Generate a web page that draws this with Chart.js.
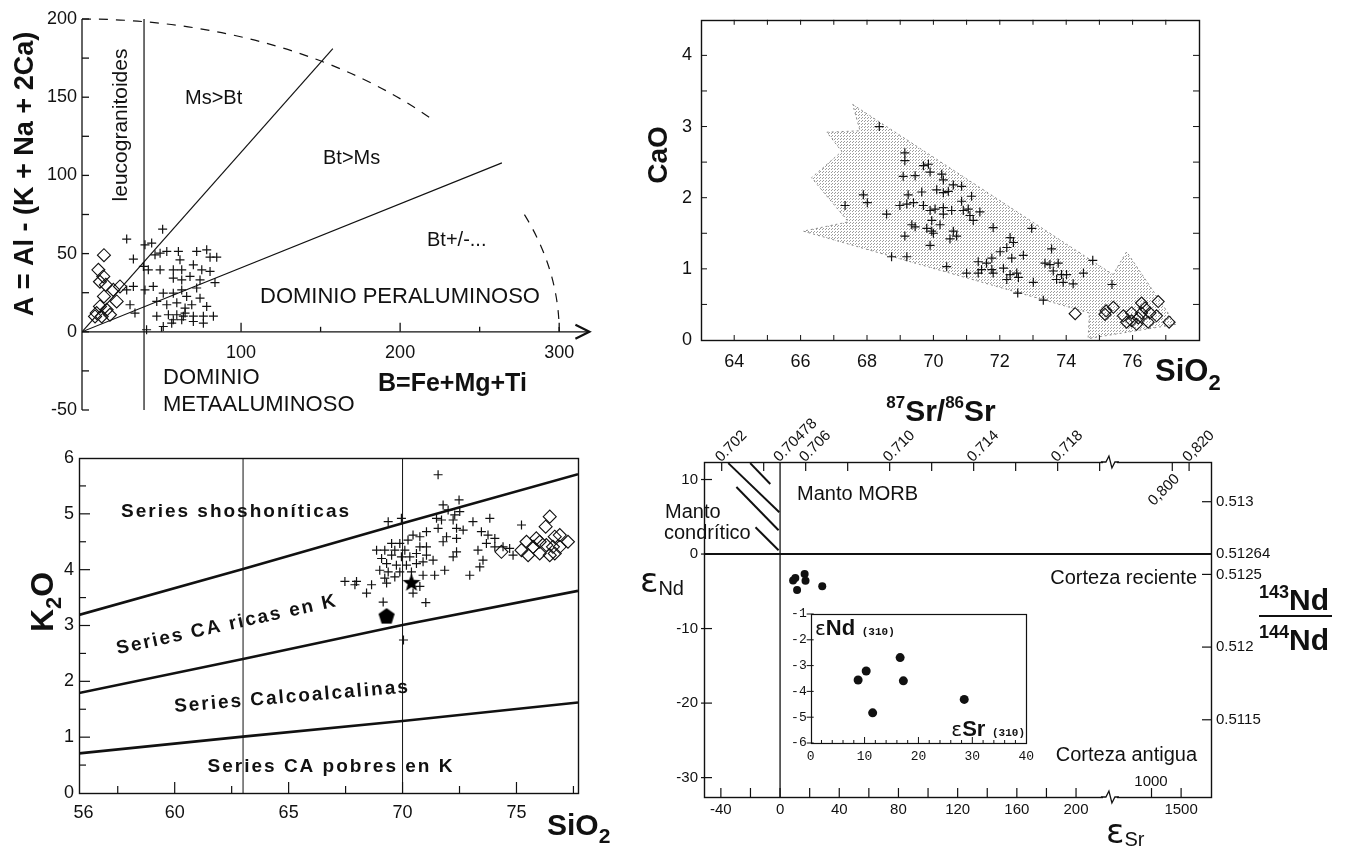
<!DOCTYPE html>
<html>
<head>
<meta charset="utf-8">
<script src="https://cdn.jsdelivr.net/npm/chart.js@4.4.1/dist/chart.umd.min.js"></script>
<style>
  html, body { margin: 0; background: #fff; }
  #page { position: relative; width: 1350px; height: 849px; overflow: hidden; }
  canvas { position: absolute; }
</style>
</head>
<body>
<div id="page">
  <canvas id="c1" width="640" height="430" style="left:0;top:0"></canvas>
  <canvas id="c2" width="710" height="420" style="left:640px;top:0"></canvas>
  <canvas id="c3" width="640" height="429" style="left:0;top:420px"></canvas>
  <canvas id="c4" width="710" height="459" style="left:640px;top:390px"></canvas>
  <canvas id="c5" width="260" height="170" style="left:780px;top:600px"></canvas>
</div>
<script>
// ── Panel 1: A–B diagram (top left) ──
const abCrosses = [
  [28.1,59.3],[50.7,65.6],[39.6,55.6],[43.8,56.7],[32.3,46.5],[38.6,41.8],[45.9,49.2],[49.1,50.3],
  [53.3,51.4],[60.6,51.4],[72.1,51.4],[78.4,52.4],[84.7,47.7],[80.5,47.7],[61.6,46],[49.1,39.6],
  [57.4,39.6],[62.7,39.6],[70,42.8],[75.3,39.6],[80.5,38.6],[41.7,39.6],[57.4,34.3],[62.7,33.2],
  [67.9,35.4],[74.2,33.2],[83.6,31.5],[39.6,26.8],[44.8,29],[51.1,24.7],[57.4,24.7],[62.7,26.8],
  [65.8,22.6],[72.1,28],[74.2,21.5],[32.3,29],[28.1,26.8],[30.2,17.3],[33.3,12],[47,19.4],
  [53.3,17.3],[59.6,18.5],[64.8,15.2],[69,17.3],[78.4,16.2],[47,10],[54.3,10.9],[59.6,10.9],
  [63.7,10],[70,10],[76.3,10],[82.6,10],[62.7,7.7],[70,6.6],[76.3,5.5],[56.4,5.5],[51.1,3.4],
  [40.6,1.3],[57.4,7.7],[64.8,12]
]
const abDiamonds = [
  [13.8,49],[10.3,39.6],[13.4,35.4],[11.3,32],[15,30],[19.7,26.8],[23.9,29],[13.8,22.6],
  [21.8,19.4],[11.3,16.2],[15.5,14.1],[9.2,12],[17.6,10.9],[12.4,9.8],[8.2,9.8]
]
const abLineMsBt = [[0, 0], [157.7, 181]]
const abLineBtMs = [[0, 0], [264, 108]]
const abLeuco = [[39, 200], [39, -50]]
const abXTicks = [100, 200, 300]
const abYTicks = [-50, 0, 50, 100, 150, 200]

// ── Panel 2: CaO vs SiO2 (top right) ──
const caoCrosses = [
  [68.37,3.00],[69.14,2.63],[69.14,2.52],[69.09,2.30],[69.45,2.31],[69.70,2.45],[69.85,2.47],[69.90,2.36],
  [70.25,2.33],[70.30,2.25],[70.85,2.16],[70.60,2.18],[70.45,2.09],[70.10,2.11],[70.30,2.07],[69.65,2.08],
  [69.24,2.04],[69.20,1.91],[68.99,1.89],[69.40,1.93],[69.70,1.89],[69.90,1.82],[70.05,1.84],[70.30,1.86],
  [70.55,1.82],[70.85,1.95],[70.90,1.82],[71.05,1.84],[71.15,2.02],[71.10,1.75],[71.20,1.68],[71.40,1.80],
  [70.30,1.77],[70.20,1.62],[69.95,1.68],[69.80,1.57],[69.45,1.59],[69.35,1.62],[69.14,1.46],[69.95,1.53],
  [70.00,1.50],[69.90,1.33],[70.60,1.53],[70.70,1.46],[70.50,1.42],[70.40,1.03],[68.74,1.17],[69.20,1.17],
  [68.59,1.77],[67.89,2.04],[68.01,1.93],[67.34,1.89],[71.80,1.58],[72.96,1.57],[72.31,1.44],[72.41,1.37],
  [72.21,1.30],[72.01,1.24],[72.71,1.19],[72.36,1.15],[71.76,1.15],[71.35,1.10],[71.60,1.08],[71.45,0.99],
  [71.76,0.99],[71.00,0.94],[71.35,0.94],[71.80,0.94],[72.11,1.01],[72.31,0.92],[72.51,0.94],[72.21,0.85],
  [72.56,0.88],[73.01,0.81],[73.56,1.28],[73.36,1.08],[73.51,1.06],[73.76,1.08],[73.61,0.97],[73.86,0.92],
  [73.71,0.85],[74.01,0.92],[73.91,0.81],[74.21,0.79],[74.52,0.94],[74.80,1.12],[72.54,0.66],[73.31,0.56],
  [75.38,0.78]
]
const caoDiamonds = [
  [74.27,0.37],[75.20,0.41],[75.42,0.46],[75.17,0.36],[75.72,0.34],[75.97,0.38],[76.27,0.52],[76.37,0.45],
  [76.77,0.54],[76.17,0.31],[76.47,0.25],[76.72,0.34],[75.82,0.25],[76.12,0.22],[76.52,0.38],[77.10,0.25],
  [76.27,0.38],[75.97,0.27]
]
const caoArrow = [
  [67.57,3.31],[75.41,0.92],[75.82,1.24],[77.3,0.22],[74.66,0.02],[74.7,0.38],[66.08,1.53],[67.44,1.66],
  [66.33,2.28],[67.24,2.65],[66.79,2.92],[67.79,2.94],[67.57,3.31]
]
const caoXTicks = [64, 66, 68, 70, 72, 74, 76]
const caoYTicks = [0, 1, 2, 3, 4]

// ── Panel 3: K2O vs SiO2 (bottom left) ──
const k2oCrosses = [
  [71.56,5.70],[72.48,5.25],[71.78,5.16],[72.0,5.07],[72.29,4.98],[72.51,5.04],[71.49,4.92],[71.71,4.89],
  [72.22,4.89],[73.09,4.86],[73.83,4.92],[69.37,4.86],[69.95,4.92],[71.56,4.74],[72.37,4.74],[72.66,4.71],
  [73.46,4.68],[73.75,4.62],[74.05,4.56],[71.93,4.59],[71.78,4.50],[72.37,4.56],[70.76,4.59],[71.05,4.68],
  [70.46,4.62],[70.24,4.53],[69.88,4.47],[69.52,4.47],[70.76,4.41],[71.05,4.41],[70.10,4.35],[69.66,4.35],
  [69.22,4.35],[68.86,4.35],[70.61,4.29],[71.05,4.26],[71.34,4.17],[70.32,4.23],[69.95,4.23],[69.52,4.26],
  [69.08,4.20],[69.30,4.11],[69.73,4.08],[70.17,4.08],[70.61,4.11],[70.90,4.14],[69.0,3.99],[69.37,3.96],
  [69.88,3.96],[70.39,3.96],[70.90,3.90],[71.41,3.90],[71.85,3.99],[69.22,3.85],[69.66,3.87],[69.30,3.76],
  [70.76,3.70],[70.46,3.58],[71.02,3.41],[69.15,3.42],[67.47,3.79],[67.98,3.79],[67.91,3.73],[68.64,3.73],
  [68.42,3.58],[72.37,4.32],[72.22,4.23],[73.31,4.35],[73.53,4.17],[73.39,4.05],[72.95,3.90],[75.22,4.80],
  [74.41,4.41],[74.70,4.38],[74.85,4.26],[74.05,4.41],[73.68,4.47],[70.04,2.74]
]
const k2oDiamonds = [
  [76.46,4.95],[76.28,4.77],[75.87,4.56],[76.68,4.59],[76.90,4.62],[77.26,4.50],[74.34,4.32],[75.22,4.35],
  [75.51,4.26],[75.73,4.41],[76.02,4.29],[76.31,4.44],[76.60,4.41],[76.90,4.41],[76.46,4.26],[76.02,4.50],
  [76.68,4.29],[75.44,4.50]
]
const k2oStar = [[70.39, 3.76]]
const k2oPentagon = [[69.3, 3.16]]
const k2oBoundHigh = [[55.8,3.19],[63,4.01],[70,4.83],[77.7,5.71]]
const k2oBoundMid = [[55.8,1.79],[63,2.40],[70,3.01],[77.7,3.62]]
const k2oBoundLow = [[55.8,0.71],[63,1.01],[70,1.29],[77.7,1.62]]
const k2oVLines = [63, 70]
const k2oXTicks = [56, 60, 65, 70, 75]
const k2oYTicks = [0, 1, 2, 3, 4, 5, 6]

// ── Panel 4: εNd vs εSr (bottom right) + inset ──
const isoEsr = [8.8, 10.3, 16.6, 17.2, 11.5, 28.5]
const isoEnd = [-3.56, -3.21, -2.69, -3.59, -4.83, -4.31]
const esrTickLabels = [-40, 0, 40, 80, 120, 160, 200, 1500]
const endTickLabels = [10, 0, -10, -20, -30]
const srRatioLabels = ['0.702', '0.70478', '0.706', '0.710', '0.714', '0.718', '0,820']
const srRatioValues = [0.702, 0.70478, 0.706, 0.710, 0.714, 0.718, 0.820]
const ndRatioLabels = ['0.513', '0.51264', '0.5125', '0.512', '0.5115']
const ndRatioValues = [0.513, 0.51264, 0.5125, 0.512, 0.5115]
const chondriteHatch = [
  [[-35.0, 12.2], [-0.5, 5.6]],
  [[-20.2, 12.2], [-6.6, 9.4]],
  [[-29.5, 9.0], [-1.0, 3.2]],
  [[-16.6, 3.6], [-1.0, 0.5]]
]
const insetXTicks = [0, 10, 20, 30, 40]
const insetYTicks = [-1, -2, -3, -4, -5, -6]

const SR_CHUR = 0.70478
const ND_CHUR = 0.51264
const BREAK_AT = 222.9            // εSr axis is broken here
const epsSr = r => (r / SR_CHUR - 1) * 1e4
const epsNd = r => (r / ND_CHUR - 1) * 1e4
// positions right of the break are compressed: 1000 → 251, 1500 → 271
const esrPos = e => e <= BREAK_AT ? e : 251 + (e - 1000) * 0.04

// ── Chart defaults ──
const FONT = "'Liberation Sans', Arial, Helvetica, sans-serif"
const INK = '#111'
Chart.defaults.font.family = FONT
Chart.defaults.color = INK
Chart.defaults.animation = false
Chart.defaults.events = []
Chart.defaults.plugins.legend.display = false
Chart.defaults.plugins.tooltip.enabled = false

const pts = arr => arr.map(([x, y]) => ({ x, y }))

function axis({ min, max, ticks, labels, pos, size = 18, pad = 6, w, h, rot = 0, shift = 0, family }) {
  return {
    type: 'linear', min, max, position: pos,
    grid: { display: false, drawTicks: false },
    border: { display: false },
    afterBuildTicks: s => { s.ticks = ticks.map(v => ({ value: v })) },
    afterFit: s => { if (w != null) s.width = w; if (h != null) s.height = h },
    ticks: {
      autoSkip: false, padding: pad, minRotation: rot, maxRotation: rot, labelOffset: shift, color: INK,
      font: { size, family: family || FONT },
      callback: (v, i) => labels ? labels[i] : String(v)
    }
  }
}

function crossSet(data, r = 4.5) {
  return { type: 'scatter', data: pts(data), pointStyle: 'cross', pointRadius: r,
    pointBorderColor: INK, pointBorderWidth: 1.2, order: 1 }
}
function diamondSet(data, r = 6.5) {
  return { type: 'scatter', data: pts(data), pointStyle: 'rectRot', pointRadius: r,
    pointBorderColor: INK, pointBackgroundColor: 'rgba(0,0,0,0)', pointBorderWidth: 1.1, order: 1 }
}
function lineSet(data, width = 1.2) {
  return { type: 'line', data: pts(data), borderColor: INK, borderWidth: width,
    pointRadius: 0, fill: false, tension: 0, order: 2 }
}

// ── drawing helpers for frames, tick marks and labels ──
function seg(ctx, x1, y1, x2, y2) { ctx.beginPath(); ctx.moveTo(x1, y1); ctx.lineTo(x2, y2); ctx.stroke() }
function txt(ctx, s, x, y, font, align = 'left', rot = 0, spacing = 0) {
  ctx.save(); ctx.translate(x, y); ctx.rotate(rot * Math.PI / 180)
  ctx.font = font; ctx.textAlign = align; ctx.textBaseline = 'middle'; ctx.fillStyle = INK
  ctx.letterSpacing = spacing + 'px'
  ctx.fillText(s, 0, 0); ctx.restore()
}
// text runs on a common baseline (for sub/superscripts)
function runs(ctx, parts, x, y, align = 'left', rot = 0) {
  ctx.save(); ctx.translate(x, y); ctx.rotate(rot * Math.PI / 180)
  ctx.fillStyle = INK; ctx.textBaseline = 'alphabetic'; ctx.textAlign = 'left'
  let total = 0
  parts.forEach(p => { ctx.font = p[1]; total += ctx.measureText(p[0]).width })
  let cx = align === 'center' ? -total / 2 : align === 'right' ? -total : 0
  parts.forEach(([s, f, dy = 0]) => { ctx.font = f; ctx.fillText(s, cx, dy); cx += ctx.measureText(s).width })
  ctx.restore()
}
function steps(a, b, s) { const out = []; for (let v = a; v <= b + 1e-9; v += s) out.push(+v.toFixed(4)); return out }
function frame(ctx, a, lw = 1.3) {
  ctx.lineWidth = lw
  ctx.strokeRect(Math.round(a.left) + 0.5, Math.round(a.top) + 0.5, Math.round(a.right - a.left), Math.round(a.bottom - a.top))
}
function page(ctx, chart, fn) {
  const c = chart.canvas
  ctx.save(); ctx.translate(-c.offsetLeft, -c.offsetTop); fn(); ctx.restore()
}

// filled point images for the star and pentagon markers
function polyImage(n, inner, size) {
  const c = document.createElement('canvas'); c.width = c.height = size
  const g = c.getContext('2d'); g.fillStyle = '#000'; g.beginPath()
  const r = size / 2 - 0.5, k = inner ? n * 2 : n
  for (let i = 0; i < k; i++) {
    const rr = inner && i % 2 ? r * inner : r
    const a = -Math.PI / 2 + i * Math.PI * 2 / k
    g.lineTo(size / 2 + rr * Math.cos(a), size / 2 + rr * Math.sin(a))
  }
  g.closePath(); g.fill(); return c
}

// stipple used for the grey arrow in the CaO diagram
function stipple(ctxOwner) {
  const c = document.createElement('canvas'); c.width = c.height = 3
  const g = c.getContext('2d'); g.fillStyle = '#9c9c9c'
  g.fillRect(0, 0, 1, 1); g.fillRect(2, 1, 1, 1)
  return ctxOwner.getContext('2d').createPattern(c, 'repeat')
}

const baseOpts = (padding, scales) => ({
  responsive: false, animation: false,
  layout: { padding, autoPadding: false },
  scales
})

// ── Chart 1: A–B ──
new Chart(document.getElementById('c1'), {
  type: 'scatter',
  data: { datasets: [
    lineSet(abLineMsBt), lineSet(abLineBtMs), lineSet(abLeuco),
    crossSet(abCrosses), diamondSet(abDiamonds)
  ] },
  options: baseOpts({ left: 22, top: 19, right: 49, bottom: 20 }, {
    x: axis({ min: 0, max: 320, ticks: abXTicks, pos: { y: 0 }, h: 0, pad: 10, size: 18 }),
    y: axis({ min: -50, max: 200, ticks: abYTicks, pos: 'left', w: 60, pad: 5, size: 18 })
  }),
  plugins: [{
    id: 'abDecor',
    afterDraw(chart) {
      const { ctx } = chart, X = v => chart.scales.x.getPixelForValue(v), Y = v => chart.scales.y.getPixelForValue(v)
      ctx.save(); ctx.strokeStyle = INK; ctx.fillStyle = INK; ctx.lineWidth = 1.3
      seg(ctx, X(0), Y(200), X(0), Y(-50))
      steps(-50, 200, 25).forEach(v => seg(ctx, X(0), Y(v), X(0) + 7, Y(v)))
      seg(ctx, X(0), Y(0), X(319), Y(0))
      steps(50, 300, 50).forEach(v => seg(ctx, X(v), Y(0), X(v), Y(0) - (v % 100 ? 5 : 9)))
      ctx.lineWidth = 2.2
      ctx.beginPath(); ctx.moveTo(X(319) - 14, Y(0) - 7); ctx.lineTo(X(319), Y(0)); ctx.lineTo(X(319) - 14, Y(0) + 7); ctx.stroke()
      // dashed limit of the diagram (ellipse A=200, B=300), open where the labels sit
      ctx.lineWidth = 1.2; ctx.setLineDash([9, 8])
      const rx = X(300) - X(0), ry = Y(0) - Y(200)
      ctx.beginPath(); ctx.ellipse(X(0), Y(0), rx, ry, 0, -Math.PI / 2, -42.5 * Math.PI / 180); ctx.stroke()
      ctx.beginPath(); ctx.ellipse(X(0), Y(0), rx, ry, 0, -22 * Math.PI / 180, 0); ctx.stroke()
      ctx.setLineDash([])
      page(ctx, chart, () => {
        txt(ctx, 'Ms>Bt', 185, 98, `20px ${FONT}`)
        txt(ctx, 'Bt>Ms', 323, 158, `20px ${FONT}`)
        txt(ctx, 'Bt+/-...', 427, 240, `20px ${FONT}`)
        txt(ctx, 'DOMINIO PERALUMINOSO', 260, 297, `22px ${FONT}`)
        txt(ctx, 'DOMINIO', 163, 378, `22px ${FONT}`)
        txt(ctx, 'METAALUMINOSO', 163, 405, `22px ${FONT}`)
        txt(ctx, 'B=Fe+Mg+Ti', 378, 384, `bold 25px ${FONT}`)
        txt(ctx, 'leucogranitoides', 121, 125, `21px ${FONT}`, 'center', -90)
        txt(ctx, 'A = Al - (K + Na + 2Ca)', 26, 174, `bold 27px ${FONT}`, 'center', -90)
      })
      ctx.restore()
    }
  }]
})

// ── Chart 2: CaO vs SiO2 ──
const c2 = document.getElementById('c2')
new Chart(c2, {
  type: 'scatter',
  data: { datasets: [
    crossSet(caoCrosses), diamondSet(caoDiamonds, 6),
    { type: 'line', data: pts(caoArrow), borderColor: '#8a8a8a', borderWidth: 1, borderDash: [2, 3],
      backgroundColor: stipple(c2), fill: 'shape', pointRadius: 0, tension: 0, order: 9 }
  ] },
  options: baseOpts({ left: 21, top: 7, right: 151, bottom: 40 }, {
    x: axis({ min: 63, max: 78, ticks: caoXTicks, pos: 'bottom', h: 40, pad: 11, size: 18 }),
    y: axis({ min: 0, max: 4.5, ticks: caoYTicks, pos: 'left', w: 40, pad: 9, size: 18 })
  }),
  plugins: [{
    id: 'caoDecor',
    afterDraw(chart) {
      const { ctx, chartArea: a } = chart, X = v => chart.scales.x.getPixelForValue(v), Y = v => chart.scales.y.getPixelForValue(v)
      ctx.save(); ctx.strokeStyle = INK; frame(ctx, a, 1.4)
      ctx.lineWidth = 1
      steps(0.5, 4, 0.5).forEach(v => { seg(ctx, a.left, Y(v), a.left + 6, Y(v)); seg(ctx, a.right, Y(v), a.right - 6, Y(v)) })
      steps(64, 77, 1).forEach(v => { seg(ctx, X(v), a.bottom, X(v), a.bottom - 5); seg(ctx, X(v), a.top, X(v), a.top + 5) })
      page(ctx, chart, () => {
        txt(ctx, 'CaO', 659, 155, `bold 28px ${FONT}`, 'center', -90)
        runs(ctx, [['SiO', `bold 31px ${FONT}`], ['2', `bold 22px ${FONT}`, 9]], 1155, 381)
      })
      ctx.restore()
    }
  }]
})

// ── Chart 3: K2O vs SiO2 ──
new Chart(document.getElementById('c3'), {
  type: 'scatter',
  data: { datasets: [
    lineSet(k2oBoundHigh, 2.6), lineSet(k2oBoundMid, 2.6), lineSet(k2oBoundLow, 2.6),
    ...k2oVLines.map(v => lineSet([[v, 0], [v, 6]], 1)),
    crossSet(k2oCrosses), diamondSet(k2oDiamonds),
    { type: 'scatter', data: pts(k2oStar), pointStyle: polyImage(5, 0.42, 20), order: 0 },
    { type: 'scatter', data: pts(k2oPentagon), pointStyle: polyImage(5, 0, 18), order: 0 }
  ] },
  options: baseOpts({ left: 39, top: 38, right: 62, bottom: 16 }, {
    x: axis({ min: 55.8, max: 77.7, ticks: k2oXTicks, pos: 'bottom', h: 40, pad: 9, size: 18 }),
    y: axis({ min: 0, max: 6, ticks: k2oYTicks, pos: 'left', w: 40, pad: 5, size: 18 })
  }),
  plugins: [{
    id: 'k2oDecor',
    afterDraw(chart) {
      const { ctx, chartArea: a } = chart, X = v => chart.scales.x.getPixelForValue(v), Y = v => chart.scales.y.getPixelForValue(v)
      ctx.save(); ctx.strokeStyle = INK; frame(ctx, a, 1.4)
      ctx.lineWidth = 1.2
      steps(0.5, 5.5, 0.5).forEach(v => seg(ctx, a.left, Y(v), a.left + (v % 1 ? 7 : 11), Y(v)))
      steps(57.5, 77.5, 2.5).forEach(v => seg(ctx, X(v), a.bottom, X(v), a.bottom - (v % 5 ? 7 : 11)))
      page(ctx, chart, () => {
        const f = `bold 19px ${FONT}`
        txt(ctx, 'Series shoshoníticas', 121, 512, f, 'left', 0, 2)
        txt(ctx, 'Series CA ricas en K', 227, 625, f, 'center', -12.4, 2)
        txt(ctx, 'Series Calcoalcalinas', 292, 697, f, 'center', -4.8, 2)
        txt(ctx, 'Series CA pobres en K', 331, 767, f, 'center', 0, 2)
        runs(ctx, [['K', `bold 32px ${FONT}`], ['2', `bold 22px ${FONT}`, 8], ['O', `bold 32px ${FONT}`]], 53, 602, 'center', -90)
        runs(ctx, [['SiO', `bold 30px ${FONT}`], ['2', `bold 21px ${FONT}`, 8]], 547, 835)
      })
      ctx.restore()
    }
  }]
})

// ── Chart 4: εNd vs εSr ──
const esrMin = -51.4, esrMax = 291.2, endMin = -32.6, endMax = 12.35
new Chart(document.getElementById('c4'), {
  type: 'scatter',
  data: { datasets: [
    { type: 'scatter', data: isoEsr.map((x, i) => ({ x, y: isoEnd[i] })), pointStyle: 'circle', pointRadius: 4,
      pointBackgroundColor: INK, pointBorderColor: INK, pointBorderWidth: 0 }
  ] },
  options: baseOpts({ left: 24, top: 22, right: 59, bottom: 22 }, {
    x: axis({ min: esrMin, max: esrMax, ticks: esrTickLabels.map(esrPos), labels: esrTickLabels.map(String),
      pos: 'bottom', h: 30, pad: 4, size: 15 }),
    x2: axis({ min: esrMin, max: esrMax, ticks: srRatioValues.map(r => esrPos(epsSr(r))), labels: srRatioLabels,
      pos: 'top', h: 50, pad: -4, shift: 9, size: 15, rot: 45 }),
    y: axis({ min: endMin, max: endMax, ticks: endTickLabels, pos: 'left', w: 40, pad: 6, size: 15 }),
    y2: axis({ min: endMin, max: endMax, ticks: ndRatioValues.map(epsNd), labels: ndRatioLabels,
      pos: 'right', w: 80, pad: 5, size: 15 })
  }),
  plugins: [{
    id: 'isoDecor',
    afterDraw(chart) {
      const { ctx, chartArea: a } = chart, X = v => chart.scales.x.getPixelForValue(v), Y = v => chart.scales.y.getPixelForValue(v)
      ctx.save(); ctx.strokeStyle = INK; frame(ctx, a, 1.4)
      ctx.lineWidth = 2; seg(ctx, a.left, Y(0), a.right, Y(0))
      ctx.lineWidth = 1.3; seg(ctx, X(0), a.top, X(0), a.bottom)
      ctx.lineWidth = 2
      chondriteHatch.forEach(([p, q]) => seg(ctx, X(p[0]), Y(p[1]), X(q[0]), Y(q[1])))
      ctx.lineWidth = 1.2
      steps(-40, 200, 20).concat([esrPos(1000), esrPos(1500)]).forEach(v => seg(ctx, X(v), a.bottom, X(v), a.bottom - 9))
      steps(0.702, 0.720, 0.002).concat([0.800, 0.820]).forEach(r => { const v = esrPos(epsSr(r)); seg(ctx, X(v), a.top, X(v), a.top + 9) })
      endTickLabels.forEach(v => seg(ctx, a.left - 3, Y(v), a.left + 8, Y(v)))
      ndRatioValues.filter(r => r !== ND_CHUR).forEach(r => seg(ctx, a.right, Y(epsNd(r)), a.right - 9, Y(epsNd(r))))
      // axis breaks
      const bx = X(BREAK_AT)
      ;[a.top, a.bottom].forEach(y => {
        ctx.clearRect(bx - 7, y - 3, 14, 6)
        ctx.lineWidth = 1.3
        ctx.beginPath(); ctx.moveTo(bx - 9, y); ctx.lineTo(bx - 4, y); ctx.lineTo(bx - 1, y - 6)
        ctx.lineTo(bx + 2, y + 6); ctx.lineTo(bx + 5, y); ctx.lineTo(bx + 9, y); ctx.stroke()
      })
      page(ctx, chart, () => {
        const f = `20px ${FONT}`
        txt(ctx, 'Manto MORB', 797, 494, f)
        txt(ctx, 'Manto', 665, 512, f)
        txt(ctx, 'condrítico', 664, 533, f)
        txt(ctx, 'Corteza reciente', 1197, 578, f, 'right')
        txt(ctx, 'Corteza antigua', 1197, 755, f, 'right')
        txt(ctx, '1000', 1151, 782, `15px ${FONT}`, 'center')
        txt(ctx, '0,800', 1164, 490, `15px ${FONT}`, 'center', -45)
        runs(ctx, [['87', `bold 17px ${FONT}`, -13], ['Sr/', `bold 30px ${FONT}`], ['86', `bold 17px ${FONT}`, -13], ['Sr', `bold 30px ${FONT}`]], 941, 421, 'center')
        runs(ctx, [['ε', `34px 'DejaVu Sans', ${FONT}`], ['Nd', `20px ${FONT}`, 3]], 640, 592)
        runs(ctx, [['ε', `34px 'DejaVu Sans', ${FONT}`], ['Sr', `20px ${FONT}`, 3]], 1106, 843)
        runs(ctx, [['143', `bold 18px ${FONT}`, -12], ['Nd', `bold 30px ${FONT}`]], 1259, 610)
        runs(ctx, [['144', `bold 18px ${FONT}`, -12], ['Nd', `bold 30px ${FONT}`]], 1259, 650)
        ctx.lineWidth = 2; seg(ctx, 1259, 616, 1332, 616)
      })
      ctx.restore()
    }
  }]
})

// ── Chart 5: inset εNd(310) vs εSr(310) ──
new Chart(document.getElementById('c5'), {
  type: 'scatter',
  data: { datasets: [
    { type: 'scatter', data: isoEsr.map((x, i) => ({ x, y: isoEnd[i] })), pointStyle: 'circle', pointRadius: 4.5,
      pointBackgroundColor: INK, pointBorderColor: INK, pointBorderWidth: 0 }
  ] },
  options: baseOpts({ left: 6.7, top: 14, right: 12, bottom: 7 }, {
    x: axis({ min: 0, max: 40, ticks: insetXTicks, pos: 'bottom', h: 20, pad: 6, size: 13, family: "'Liberation Mono', monospace" }),
    y: axis({ min: -6, max: -1, ticks: insetYTicks, pos: 'left', w: 24, pad: 4, size: 13, family: "'Liberation Mono', monospace" })
  }),
  plugins: [{
    id: 'insetDecor',
    afterDraw(chart) {
      const { ctx, chartArea: a } = chart, X = v => chart.scales.x.getPixelForValue(v), Y = v => chart.scales.y.getPixelForValue(v)
      ctx.save(); ctx.strokeStyle = INK; frame(ctx, a, 1.2)
      ctx.lineWidth = 1
      insetYTicks.forEach(v => seg(ctx, a.left - 4, Y(v), a.left + 3, Y(v)))
      steps(2, 38, 2).forEach(v => seg(ctx, X(v), a.bottom, X(v), a.bottom - (v % 10 ? 3 : 6)))
      page(ctx, chart, () => {
        runs(ctx, [['ε', `20px 'DejaVu Sans', ${FONT}`], ['Nd', `bold 22px ${FONT}`], [' (310)', `bold 11px 'Liberation Mono', monospace`]], 815, 635)
        runs(ctx, [['ε', `20px 'DejaVu Sans', ${FONT}`], ['Sr', `bold 22px ${FONT}`], [' (310)', `bold 11px 'Liberation Mono', monospace`]], 1025, 736, 'right')
      })
      ctx.restore()
    }
  }]
})
</script>
</body>
</html>
